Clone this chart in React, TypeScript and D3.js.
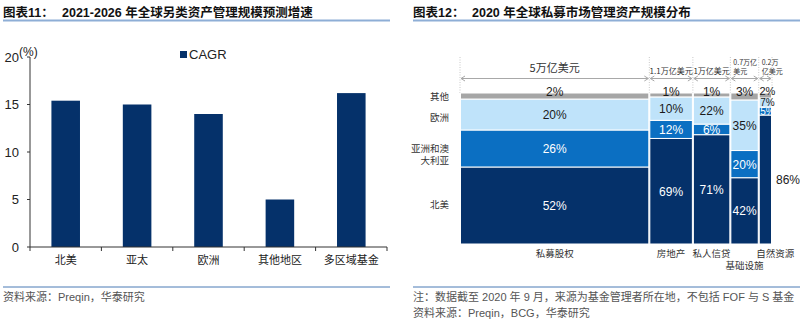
import React from "react";
import * as d3 from "d3";

// ---------- Left chart data ----------
const cagrCategories = ["北美", "亚太", "欧洲", "其他地区", "多区域基金"];
const cagrValues = [15.4, 15.0, 14.0, 5.0, 16.2];
const cagrTicks = [0, 5, 10, 15, 20];

// ---------- Right chart data ----------
const assetClasses = ["私募股权", "房地产", "私人信贷", "基础设施", "自然资源"];
const aumSizes = [5.0, 1.15, 0.99, 0.75, 0.35]; // widths (万亿美元)
const aumLabels = [["5万亿美元"], ["1.1万亿美元"], ["1万亿美元"], ["0.7万亿", "美元"], ["0.2万", "亿美元"]];
const regionNames = ["北美", "亚洲和澳大利亚", "欧洲", "其他"];
// printed shares
const labelNA = ["52%", "69%", "71%", "42%", "86%"];
const labelApac = ["26%", "12%", "6%", "20%", "5%"];
const labelEurope = ["20%", "10%", "22%", "35%", "7%"];
const labelOther = ["2%", "1%", "1%", "3%", "2%"];
// drawn heights (% of column)
const shareOther = [4, 2.6, 2.6, 4.6, 3.3];
const shareEurope = [20.5, 15.5, 18, 33.5, 6];
const shareApac = [24.5, 12, 7, 18, 5.3];
const shareNA = [51, 69.9, 72.4, 43.9, 85.4];

const NAVY = "#05316a";
const MID = "#0b6fc2";
const LIGHT = "#bfe3fa";
const GRAY = "#a6a6a6";
const CJK = "'Noto Sans CJK SC', sans-serif";
const LAT = "'Liberation Sans', Arial, 'Noto Sans CJK SC', sans-serif";

function LeftChart() {
  const x = d3.scaleBand<string>().domain(cagrCategories).range([30, 387]).paddingInner(0.6).paddingOuter(0.3);
  const y = d3.scaleLinear().domain([0, 20]).range([247, 57]);
  const step = x.step();
  const boundaries = d3.range(cagrCategories.length + 1).map((i) => 30 + i * step);
  return (
    <g>
      {cagrValues.map((v, i) => (
        <rect key={i} x={x(cagrCategories[i])} y={y(v)} width={x.bandwidth()} height={y(0) - y(v)} fill={NAVY} />
      ))}
      <line x1={30} x2={30} y1={y(20)} y2={y(0)} stroke="#333" strokeWidth={1} />
      <line x1={30} x2={387} y1={y(0)} y2={y(0)} stroke="#333" strokeWidth={1} />
      {cagrTicks.map((t) => (
        <g key={t}>
          <line x1={27} x2={30} y1={y(t)} y2={y(t)} stroke="#333" />
          <text x={19} y={y(t) + 4.5} textAnchor="end" fontSize={13} fontFamily={LAT} fill="#222">{t}</text>
        </g>
      ))}
      {boundaries.map((b, i) => (
        <line key={i} x1={b} x2={b} y1={y(0)} y2={y(0) + 4} stroke="#333" />
      ))}
      {cagrCategories.map((c) => (
        <text key={c} x={(x(c) as number) + x.bandwidth() / 2} y={264} textAnchor="middle" fontSize={11} fontFamily={CJK} fill="#222">{c}</text>
      ))}
      <text x={19} y={56} fontSize={12} fontFamily={LAT} fill="#222">(%)</text>
      <rect x={180} y={51} width={7} height={7} fill={NAVY} />
      <text x={189} y={59} fontSize={13} fontFamily={LAT} fill="#222">CAGR</text>
    </g>
  );
}

function RightChart() {
  const total = d3.sum(aumSizes);
  const x = d3.scaleLinear().domain([0, total]).range([460, 772]);
  const y = d3.scaleLinear().domain([0, 100]).range([244, 93]);
  const cum = [0, ...d3.cumsum(aumSizes)];
  const series = [
    { vals: shareNA, labels: labelNA, fill: NAVY, text: "#fff" },
    { vals: shareApac, labels: labelApac, fill: MID, text: "#fff" },
    { vals: shareEurope, labels: labelEurope, fill: LIGHT, text: "#1a1a1a" },
    { vals: shareOther, labels: labelOther, fill: GRAY, text: "#1a1a1a" },
  ];
  const rowLabelY = [[205], [148.5, 160.5], [118], [97]];
  const rowLabelLines = [["北美"], ["亚洲和澳", "大利亚"], ["欧洲"], ["其他"]];
  const last = assetClasses.length - 1;
  return (
    <g>
      {/* dotted boundaries + arrows */}
      {cum.map((c, i) => (
        <line key={"v" + i} x1={x(c)} x2={x(c)} y1={57} y2={93} stroke="#c8c8c8" strokeDasharray="1,1.5" />
      ))}
      {assetClasses.map((a, i) => {
        const x0 = x(cum[i]) + 1;
        const x1 = x(cum[i + 1]) - 1;
        const ay = 78.5;
        return (
          <g key={"a" + i} stroke="#a8a8a8" fill="none" strokeWidth={1}>
            <line x1={x0} x2={x1} y1={ay} y2={ay} />
            <polyline points={`${x0 + 4},${ay - 2.5} ${x0},${ay} ${x0 + 4},${ay + 2.5}`} />
            <polyline points={`${x1 - 4},${ay - 2.5} ${x1},${ay} ${x1 - 4},${ay + 2.5}`} />
          </g>
        );
      })}
      {aumLabels.map((lines, i) => {
        const big = i === 0;
        const cx = (x(cum[i]) + x(cum[i + 1])) / 2;
        if (lines.length === 1) {
          return (
            <text key={"l" + i} x={cx} y={big ? 72 : 74} textAnchor="middle" fontSize={big ? 11 : 8} fontFamily={CJK} fill="#333">{lines[0]}</text>
          );
        }
        return (
          <text key={"l" + i} fontSize={7} fontFamily={CJK} fill="#333">
            {lines.map((t, k) => (
              <tspan key={k} x={x(cum[i]) + 3} y={65 + k * 8.5}>{t}</tspan>
            ))}
          </text>
        );
      })}
      {/* stacked columns */}
      {assetClasses.map((a, i) => {
        let acc = 0;
        const x0 = x(cum[i]);
        const x1 = x(cum[i + 1]);
        return (
          <g key={"c" + i}>
            {series.map((s, j) => {
              const v = s.vals[i];
              const top = y(acc + v);
              const bot = y(acc);
              acc += v;
              return (
                <rect key={j} x={x0 + 0.5} y={top} width={x1 - x0 - 1} height={bot - top} fill={s.fill} stroke="#fff" strokeWidth={1} />
              );
            })}
          </g>
        );
      })}
      {/* labels */}
      {assetClasses.map((a, i) => {
        let acc = 0;
        const x0 = x(cum[i]);
        const x1 = x(cum[i + 1]);
        const cx = (x0 + x1) / 2;
        return (
          <g key={"t" + i}>
            {series.map((s, j) => {
              const v = s.vals[i];
              const mid = y(acc + v / 2);
              const topY = y(acc + v);
              acc += v;
              const isOther = j === 3;
              const isNR = i === last;
              const isNROut = j === 0 && isNR;
              const tx = isNROut ? 788 : isNR ? cx + 2 : cx;
              const fs = isNR && !isNROut ? (isOther ? 11 : 10) : 12;
              const ty = isOther ? topY + (isNR ? 1.5 : 3) : isNR && !isNROut ? mid + 3.6 : mid + 4.5;
              return (
                <text key={j} x={tx} y={ty} textAnchor="middle" fontSize={fs} fontFamily={LAT} fill={isNROut ? "#1a1a1a" : s.text}>{s.labels[i]}</text>
              );
            })}
          </g>
        );
      })}
      {/* row labels */}
      {regionNames.map((r, j) => (
        <text key={r} textAnchor="end" fontSize={9.5} fontFamily={CJK} fill="#333">
          {rowLabelLines[j].map((t, k) => (
            <tspan key={k} x={449} y={rowLabelY[j][k] + 3.3}>{t}</tspan>
          ))}
        </text>
      ))}
      {/* category labels */}
      {assetClasses.map((a, i) => {
        const cx = (x(cum[i]) + x(cum[i + 1])) / 2;
        const isInfra = i === 3;
        const tx = i === last ? cx + 10 : cx;
        return (
          <text key={a} x={tx} y={isInfra ? 269 : 256.5} textAnchor="middle" fontSize={9.5} fontFamily={CJK} fill="#333">{a}</text>
        );
      })}
    </g>
  );
}

export default function App() {
  return (
    <svg width={800} height={321} style={{ position: "absolute", left: 0, top: 0, background: "#fff" }}>
      <rect x={0} y={0} width={800} height={321} fill="#fff" />
      {/* titles */}
      <text x={3} y={17} fontSize={12.5} fontWeight="bold" fontFamily={LAT} fill="#111">图表11：</text>
      <text x={62} y={17} fontSize={12.5} fontWeight="bold" fontFamily={LAT} fill="#111">2021-2026 年全球另类资产管理规模预测增速</text>
      <line x1={3} x2={390} y1={20.5} y2={20.5} stroke="#8eaed6" strokeWidth={2} />
      <text x={413} y={17} fontSize={12.5} fontWeight="bold" fontFamily={LAT} fill="#111">图表12：</text>
      <text x={472} y={17} fontSize={12.5} fontWeight="bold" fontFamily={LAT} fill="#111">2020 年全球私募市场管理资产规模分布</text>
      <line x1={413} x2={800} y1={20.5} y2={20.5} stroke="#8eaed6" strokeWidth={2} />

      <LeftChart />
      <RightChart />

      {/* bottom rules and notes */}
      <line x1={3} x2={390} y1={287} y2={287} stroke="#4a7ab5" strokeWidth={1} />
      <line x1={413} x2={800} y1={287} y2={287} stroke="#4a7ab5" strokeWidth={1} />
      <text x={3} y={301} fontSize={11} fontFamily={LAT} fill="#555">资料来源：Preqin，华泰研究</text>
      <text x={413} y={301} fontSize={11} fontFamily={LAT} fill="#555">注：数据截至 2020 年 9 月，来源为基金管理者所在地，不包括 FOF 与 S 基金</text>
      <text x={413} y={317} fontSize={11} fontFamily={LAT} fill="#555">资料来源：Preqin，BCG，华泰研究</text>
    </svg>
  );
}
